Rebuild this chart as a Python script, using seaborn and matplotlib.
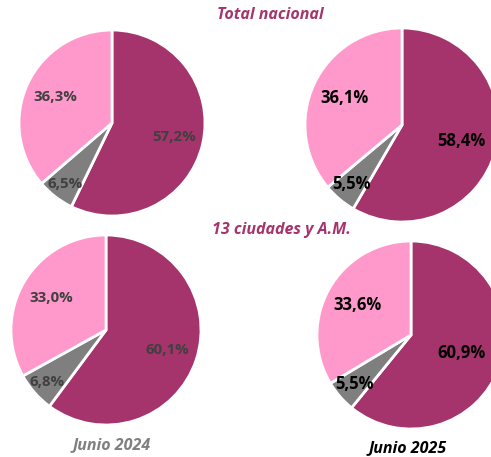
import numpy as np
import matplotlib
matplotlib.use("Agg")
import matplotlib.pyplot as plt
import seaborn as sns

# Participación por segmento (orden: magenta, gris, rosa)
total_2024 = [57.2, 6.5, 36.3]
total_2025 = [58.4, 5.5, 36.1]
ciudades_2024 = [60.1, 6.8, 33.0]
ciudades_2025 = [60.9, 5.5, 33.6]
titulos = ["Total nacional", "13 ciudades y A.M."]
periodos = ["Junio 2024", "Junio 2025"]

sns.set_theme(style="white")
plt.rcParams['font.family'] = ['Open Sans', 'DejaVu Sans']

colores = ["#A5346C", "#7F7F7F", "#FF99CC"]
W, H = 491, 457

fig = plt.figure(figsize=(W / 100, H / 100), dpi=100)
ax = fig.add_axes([0, 0, 1, 1])


def tarta(valores, cx, cy, r, color_txt, size, dists):
    wedges, _ = ax.pie(valores, colors=colores, startangle=90, counterclock=False,
                       center=(cx, H - cy), radius=r,
                       wedgeprops=dict(edgecolor="white", linewidth=2))
    for w, v, d in zip(wedges, valores, dists):
        ang = np.deg2rad((w.theta1 + w.theta2) / 2)
        x = cx + d * r * np.cos(ang)
        y = H - cy + d * r * np.sin(ang)
        ax.text(x, y, f"{v:.1f}%".replace(".", ","), ha="center", va="center",
                fontsize=size, fontweight="bold", color=color_txt)


tarta(total_2024, 112, 123, 93, "#404040", 10.8, [0.68, 0.83, 0.67])
tarta(total_2025, 402, 125, 97, "black", 12, [0.63, 0.80, 0.65])
tarta(ciudades_2024, 106, 330, 95, "#404040", 10.8, [0.68, 0.83, 0.67])
tarta(ciudades_2025, 411, 335, 94, "black", 12, [0.57, 0.80, 0.65])

ax.text(270, H - 15, titulos[0], ha="center", va="center", fontsize=11.5,
        fontweight="bold", style="italic", color="#A5346C")
ax.text(281, H - 230, titulos[1], ha="center", va="center", fontsize=11.5,
        fontweight="bold", style="italic", color="#A5346C")
ax.text(112, H - 445, periodos[0], ha="center", va="center", fontsize=11.5,
        fontweight="bold", style="italic", color="#7F7F7F")
ax.text(408, H - 448, periodos[1], ha="center", va="center", fontsize=11.5,
        fontweight="bold", style="italic", color="black")

ax.set_xlim(0, W)
ax.set_ylim(0, H)
ax.set_aspect("equal")
ax.axis("off")

fig.savefig("out.png", dpi=100)
